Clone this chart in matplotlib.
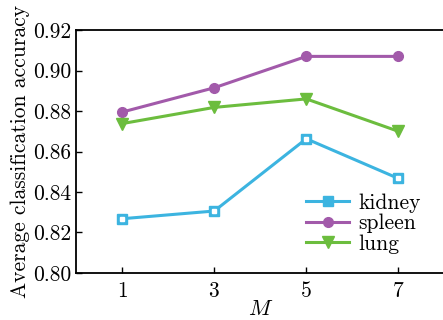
import matplotlib
matplotlib.use('Agg')
import matplotlib.pyplot as plt

# datos
M = [1, 3, 5, 7]
kidney = [0.8268, 0.8306, 0.8663, 0.8467]
spleen = [0.8795, 0.8915, 0.9070, 0.9070]
lung = [0.8738, 0.8818, 0.8860, 0.8700]
yticks = [0.80, 0.82, 0.84, 0.86, 0.88, 0.90, 0.92]

plt.rcParams['font.family'] = 'cmr10'
plt.rcParams['mathtext.fontset'] = 'cm'
plt.rcParams['axes.formatter.use_mathtext'] = True

fig = plt.figure(figsize=(4.43, 3.2), dpi=100)
ax = fig.add_axes([0.172, 0.147, 0.831, 0.759])

ax.plot(M, kidney, '-s', color='#3cb4e0', lw=2.2, ms=7, mfc='#3cb4e0',
        mec='#3cb4e0', label='kidney')
ax.plot(M, kidney, 's', color='white', ms=2.5, ls='none')
ax.plot(M, spleen, '-o', color='#a25aaa', lw=2.2, ms=7, label='spleen')
ax.plot(M, lung, '-v', color='#6cbd3e', lw=2.2, ms=8, label='lung')

ax.set_xlim(0, 8)
ax.set_ylim(0.80, 0.92)
ax.set_xticks(M)
ax.set_yticks(yticks)
ax.set_yticklabels([f'{v:.2f}' for v in yticks])
ax.tick_params(direction='in', length=4, labelsize=15.5, width=1)
ax.tick_params(axis='x', pad=6)
ax.set_xlabel('$M$', fontsize=16, labelpad=-1)
ax.set_ylabel('Average classification accuracy', fontsize=15.5, labelpad=2)
for s in ax.spines.values():
    s.set_linewidth(1.3)
ax.spines['right'].set_visible(False)

leg = ax.legend(loc='lower right', bbox_to_anchor=(0.97, 0.025), frameon=False,
                fontsize=15.5, handlelength=2.0, labelspacing=0.05,
                handletextpad=0.4, borderaxespad=0.2)

fig.savefig('out.png', dpi=100)
